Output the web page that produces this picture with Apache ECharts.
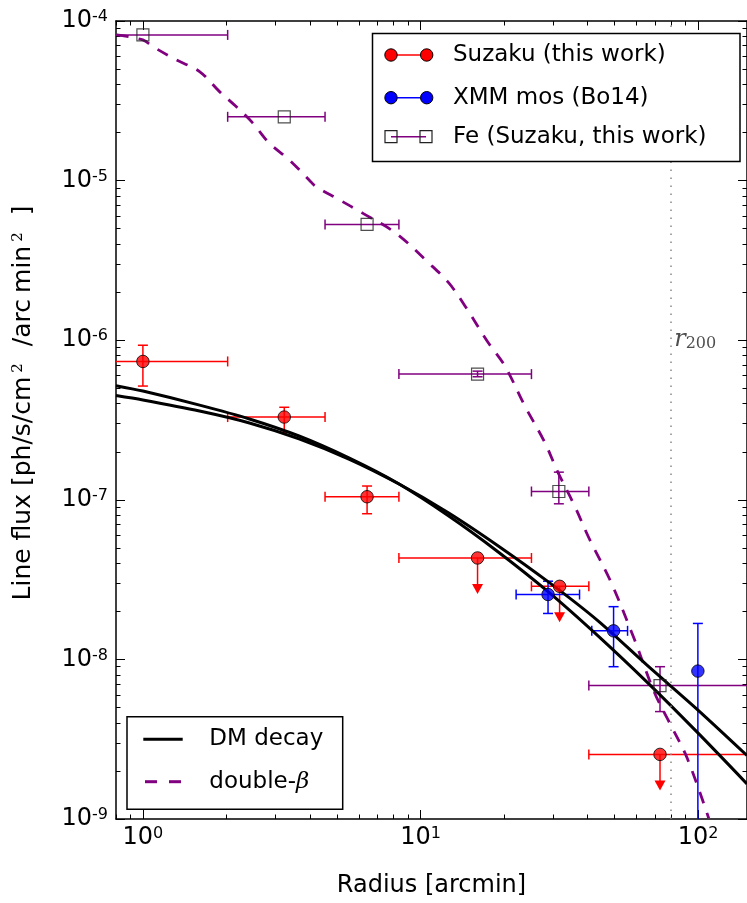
<!DOCTYPE html>
<html>
<head>
<meta charset="utf-8">
<script src="https://cdn.jsdelivr.net/npm/echarts@6/dist/echarts.min.js"></script>
<style>
html, body { margin: 0; padding: 0; background: #fff; }
#chart { width: 747px; height: 903px; }
</style>
</head>
<body>
<div id="chart"></div>
<script>
// tick values
var xMajor = [1, 10, 100];
var xMinor = [0.8, 0.9, 2, 3, 4, 5, 6, 7, 8, 9, 20, 30, 40, 50, 60, 70, 80, 90];
var yMajor = [1e-9, 1e-8, 1e-7, 1e-6, 1e-5, 1e-4];
var yMinor = [];
for (var d = -9; d < -4; d++) {
    for (var m = 2; m < 10; m++) yMinor.push(m * Math.pow(10, d));
}

// Suzaku (this work)
var suzakuX = [1.0, 3.23, 6.42, 16.05, 31.7, 72.9];
var suzakuY = [7.36e-7, 3.30e-7, 1.045e-7, 4.32e-8, 2.87e-8, 2.54e-9];
var suzakuXLo = [0.5, 2.02, 4.53, 8.36, 25.1, 40.4];
var suzakuXHi = [2.02, 4.53, 8.36, 25.1, 40.4, 200];
var suzakuYLo = [5.16e-7, 2.65e-7, 8.18e-8, null, null, null];
var suzakuYHi = [9.3e-7, 3.80e-7, 1.22e-7, null, null, null];
var suzakuUpper = [0, 0, 0, 1, 1, 1];

// XMM mos (Bo14)
var xmmX = [28.8, 49.6, 99.8];
var xmmY = [2.55e-8, 1.51e-8, 8.45e-9];
var xmmXLo = [22.1, 41.4, null];
var xmmXHi = [37.4, 55.7, null];
var xmmYLo = [1.94e-8, 9.0e-9, 3e-10];
var xmmYHi = [3.09e-8, 2.14e-8, 1.68e-8];

// Fe (Suzaku, this work)
var feX = [1.0, 3.23, 6.42, 16.05, 31.5, 72.9];
var feY = [8.18e-5, 2.51e-5, 5.31e-6, 6.13e-7, 1.127e-7, 6.85e-9];
var feXLo = [0.5, 2.02, 4.53, 8.36, 25.1, 40.4];
var feXHi = [2.02, 4.53, 8.36, 25.1, 40.4, 200];
var feYLo = [null, null, null, 5.9e-7, 9.44e-8, 4.71e-9];
var feYHi = [null, null, null, 6.4e-7, 1.49e-7, 9.0e-9];

// DM decay curves
var dmX = [0.8, 1.0, 1.6, 2.42, 3.65, 5.52, 8.34, 12.6, 19.0, 28.8, 43.5, 65.6, 99.2, 150];
var dmAY = [5.19e-7, 4.80e-7, 3.92e-7, 3.21e-7, 2.51e-7, 1.83e-7, 1.26e-7, 7.94e-8, 4.73e-8, 2.66e-8, 1.41e-8, 7.18e-9, 3.50e-9, 1.66e-9];
var dmBY = [4.50e-7, 4.22e-7, 3.60e-7, 3.03e-7, 2.41e-7, 1.80e-7, 1.26e-7, 8.30e-8, 5.16e-8, 3.07e-8, 1.75e-8, 9.17e-9, 4.87e-9, 2.50e-9];

// double-beta
var dbX = [0.805, 1.0, 1.086, 1.32, 1.60, 1.888, 2.167, 2.485, 2.85, 3.365, 3.97, 4.19, 5.08, 6.16, 8.12, 10.68, 12.6, 14.46, 17.52, 20.12, 23.73, 27.99, 31.24, 35.85, 40.56, 48.5, 58.8, 69.4, 79.6, 91.3, 109.2];
var dbY = [8.18e-5, 7.61e-5, 6.91e-5, 5.70e-5, 4.82e-5, 3.61e-5, 2.91e-5, 2.30e-5, 1.72e-5, 1.35e-5, 1.01e-5, 9.21e-6, 7.61e-6, 6.28e-6, 4.71e-6, 3.06e-6, 2.30e-6, 1.64e-6, 9.68e-7, 6.91e-7, 3.89e-7, 2.30e-7, 1.49e-7, 9.21e-8, 5.70e-8, 3.06e-8, 1.35e-8, 6.28e-9, 3.89e-9, 2.41e-9, 1.01e-9];

var r200X = 80;
var r200LabelX = 82;
var r200LabelY = 1.0e-6;

var FONT = 'DejaVu Sans';

function pairs(xs, ys) {
    return xs.map(function (x, i) { return [x, ys[i]]; });
}

function powLabel(v) {
    var e = Math.round(Math.log(v) / Math.LN10);
    return '{b|10}{s|' + e + '}';
}

var tickRich = {
    b: { fontSize: 24, fontFamily: FONT, color: '#000' },
    s: { fontSize: 16, fontFamily: FONT, color: '#000', verticalAlign: 'top' }
};

function ok(v) { return isFinite(v) && v > 0; }

function errorBars(xs, ys, xlo, xhi, ylo, yhi, upper, color) {
    var data = xs.map(function (x, i) {
        return [x, ys[i], xlo[i], xhi[i], ylo[i], yhi[i], upper ? upper[i] : 0];
    });
    return {
        type: 'custom',
        data: data,
        clip: true,
        z: 2,
        encode: { x: 0, y: 1 },
        renderItem: function (params, api) {
            var x = api.value(0), y = api.value(1);
            var c = api.coord([x, y]);
            var st = { stroke: color, lineWidth: 1.5 };
            var cap = 5;
            var kids = [];
            if (ok(api.value(2)) && ok(api.value(3))) {
                var a = api.coord([api.value(2), y]), b = api.coord([api.value(3), y]);
                kids.push({ type: 'line', shape: { x1: a[0], y1: c[1], x2: b[0], y2: c[1] }, style: st });
                kids.push({ type: 'line', shape: { x1: a[0], y1: c[1] - cap, x2: a[0], y2: c[1] + cap }, style: st });
                kids.push({ type: 'line', shape: { x1: b[0], y1: c[1] - cap, x2: b[0], y2: c[1] + cap }, style: st });
            }
            if (ok(api.value(4)) && ok(api.value(5))) {
                var lo = api.coord([x, api.value(4)]), hi = api.coord([x, api.value(5)]);
                kids.push({ type: 'line', shape: { x1: c[0], y1: lo[1], x2: c[0], y2: hi[1] }, style: st });
                kids.push({ type: 'line', shape: { x1: c[0] - cap, y1: lo[1], x2: c[0] + cap, y2: lo[1] }, style: st });
                kids.push({ type: 'line', shape: { x1: c[0] - cap, y1: hi[1], x2: c[0] + cap, y2: hi[1] }, style: st });
            }
            if (api.value(6) === 1) {
                kids.push({ type: 'line', shape: { x1: c[0], y1: c[1], x2: c[0], y2: c[1] + 27 }, style: st });
                kids.push({ type: 'polygon', shape: { points: [[c[0] - 5.5, c[1] + 26], [c[0] + 5.5, c[1] + 26], [c[0], c[1] + 36]] }, style: { fill: color } });
            }
            return { type: 'group', children: kids };
        }
    };
}

function xAx(pos, ticks, len, main) {
    return {
        type: 'log', logBase: 10, min: 0.8, max: 150, position: pos,
        axisLine: { show: main, onZero: false, lineStyle: { color: '#000', width: 1.5 } },
        axisTick: { show: true, inside: true, length: len, customValues: ticks, lineStyle: { color: '#000', width: 1 } },
        axisLabel: pos === 'bottom' && main ? { customValues: xMajor, formatter: powLabel, rich: tickRich, margin: 7 } : { show: false },
        splitLine: { show: false }
    };
}

function yAx(pos, ticks, len, main) {
    return {
        type: 'log', logBase: 10, min: 1e-9, max: 1e-4, position: pos,
        axisLine: { show: main, onZero: false, lineStyle: { color: '#000', width: 1.5 } },
        axisTick: { show: true, inside: true, length: len, customValues: ticks, lineStyle: { color: '#000', width: 1 } },
        axisLabel: pos === 'left' && main ? { customValues: yMajor, formatter: powLabel, rich: tickRich, margin: 8 } : { show: false },
        splitLine: { show: false }
    };
}

var xAxes = [xAx('bottom', xMajor, 9, true), xAx('bottom', xMinor, 4.5, false), xAx('top', xMajor, 9, true), xAx('top', xMinor, 4.5, false)];
xAxes[0].name = 'Radius [arcmin]';
xAxes[0].nameLocation = 'middle';
xAxes[0].nameGap = 55;
xAxes[0].nameTextStyle = { fontSize: 24, fontFamily: FONT, color: '#000' };

var yAxes = [yAx('left', yMajor, 9, true), yAx('left', yMinor, 4.5, false), yAx('right', yMajor, 9, true), yAx('right', yMinor, 4.5, false)];
yAxes[0].name = '{t|Line flux [ph/s/cm}{u|2}{t| /arc}{m|min}{u|2}{t| ]}';
yAxes[0].nameLocation = 'middle';
yAxes[0].nameGap = 80;
yAxes[0].nameTextStyle = {
    padding: [0, 0, 0, 34],
    rich: {
        t: { fontSize: 25, fontFamily: FONT, color: '#000' },
        m: { fontSize: 25, fontFamily: FONT, color: '#000', padding: [0, 0, 0, 6] },
        u: { fontSize: 15, fontFamily: 'DejaVu Serif', color: '#000', verticalAlign: 'top', padding: [0, 9, 0, 4] }
    }
};

// legend drawn like matplotlib
var legend = [];
function box(x, y, w, h) {
    legend.push({ type: 'rect', z: 100, shape: { x: x, y: y, width: w, height: h }, style: { fill: '#fff', stroke: '#000', lineWidth: 1.5 } });
}
function txt(x, y, t, rich) {
    var s = { x: x, y: y, text: t, font: '23px ' + FONT, fill: '#000', verticalAlign: 'middle' };
    if (rich) s.rich = rich;
    legend.push({ type: 'text', z: 101, style: s });
}
box(372.5, 33.5, 367.5, 128);
[['#ff0000', 55, 'Suzaku (this work)'], ['#0000ff', 97.7, 'XMM mos (Bo14)']].forEach(function (r) {
    legend.push({ type: 'line', z: 101, shape: { x1: 391, y1: r[1], x2: 426.7, y2: r[1] }, style: { stroke: r[0], lineWidth: 1.5 } });
    [391, 426.7].forEach(function (cx) {
        legend.push({ type: 'circle', z: 102, shape: { cx: cx, cy: r[1], r: 6.2 }, style: { fill: r[0], stroke: '#000', lineWidth: 1 } });
    });
    txt(453, r[1], r[2]);
});
legend.push({ type: 'line', z: 101, shape: { x1: 391, y1: 136.7, x2: 426, y2: 136.7 }, style: { stroke: '#800080', lineWidth: 1.5 } });
[391, 426].forEach(function (cx) {
    legend.push({ type: 'rect', z: 102, shape: { x: cx - 6, y: 130.7, width: 12, height: 12 }, style: { fill: 'none', stroke: '#222', lineWidth: 1.2 } });
});
txt(453, 136.7, 'Fe (Suzaku, this work)');

box(127, 716.7, 215.7, 92.6);
legend.push({ type: 'line', z: 101, shape: { x1: 143.3, y1: 739.3, x2: 182.7, y2: 739.3 }, style: { stroke: '#000', lineWidth: 3 } });
legend.push({ type: 'line', z: 101, shape: { x1: 145, y1: 781.7, x2: 182, y2: 781.7 }, style: { stroke: '#800080', lineWidth: 3, lineDash: [12, 12] } });
txt(209.3, 739.3, 'DM decay');
txt(209.3, 781.7, '{n|double-}{g|β}', {
    n: { fontSize: 23, fontFamily: FONT, color: '#000' },
    g: { fontSize: 23, fontFamily: 'DejaVu Serif', fontStyle: 'italic', color: '#000' }
});

var option = {
    animation: false,
    backgroundColor: '#fff',
    grid: { left: 116, top: 21, width: 634, height: 800 },
    xAxis: xAxes,
    yAxis: yAxes,
    graphic: legend,
    series: [
        errorBars(feX, feY, feXLo, feXHi, feYLo, feYHi, null, '#800080'),
        errorBars(suzakuX, suzakuY, suzakuXLo, suzakuXHi, suzakuYLo, suzakuYHi, suzakuUpper, '#ff0000'),
        errorBars(xmmX, xmmY, xmmXLo, xmmXHi, xmmYLo, xmmYHi, null, '#0000ff'),
        {
            type: 'line', data: pairs(dbX, dbY), symbol: 'none', smooth: 0.35, z: 3,
            lineStyle: { color: '#800080', width: 2.8, type: [12, 10] }
        },
        {
            type: 'line', data: pairs(dmX, dmAY), symbol: 'none', smooth: 0.3, z: 3,
            lineStyle: { color: '#000', width: 3 }
        },
        {
            type: 'line', data: pairs(dmX, dmBY), symbol: 'none', smooth: 0.3, z: 3,
            lineStyle: { color: '#000', width: 3 }
        },
        {
            type: 'scatter', data: [[r200LabelX, r200LabelY]], symbolSize: 0, z: 4, silent: true,
            label: {
                show: true, position: 'right', distance: 0,
                formatter: '{r|r}{s|200}',
                rich: {
                    r: { fontSize: 24, fontFamily: 'DejaVu Serif', fontStyle: 'italic', color: '#222' },
                    s: { fontSize: 16, fontFamily: 'DejaVu Serif', color: '#222', verticalAlign: 'bottom' }
                }
            },
            markLine: {
                silent: true, symbol: 'none', label: { show: false },
                lineStyle: { color: '#888', width: 1.5, type: [1.5, 6.5] },
                data: [{ xAxis: r200X }]
            }
        },
        {
            type: 'scatter', data: pairs(feX, feY), symbol: 'rect', symbolSize: 12, z: 5,
            itemStyle: { color: 'rgba(0,0,0,0)', borderColor: '#222', borderWidth: 1.2 }
        },
        {
            type: 'scatter', data: pairs(suzakuX, suzakuY), symbol: 'circle', symbolSize: 12.5, z: 5,
            itemStyle: { color: '#ff0000', borderColor: '#000', borderWidth: 1 }
        },
        {
            type: 'scatter', data: pairs(xmmX, xmmY), symbol: 'circle', symbolSize: 12.5, z: 5,
            itemStyle: { color: '#0000ff', borderColor: '#000', borderWidth: 1 }
        }
    ]
};

var chart = echarts.init(document.getElementById('chart'));
chart.setOption(option);
</script>
</body>
</html>
